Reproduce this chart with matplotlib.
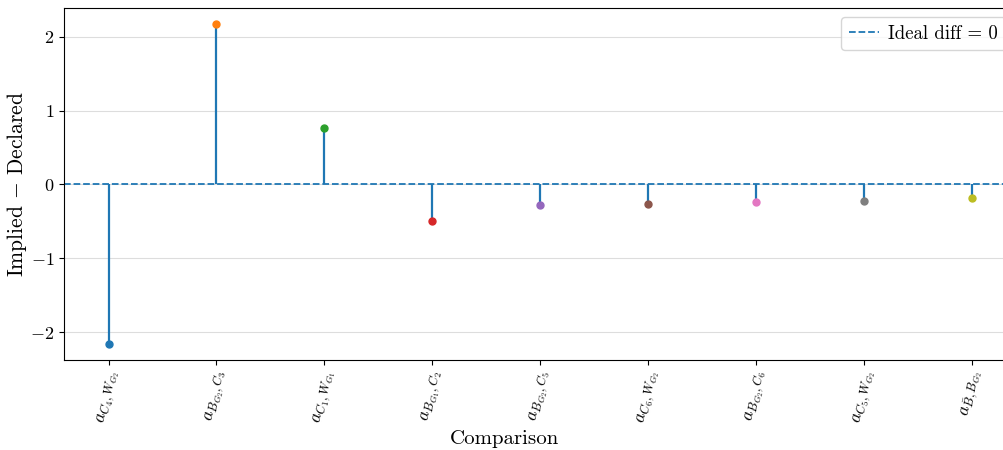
import numpy as np
import matplotlib
matplotlib.use("Agg")
import matplotlib.pyplot as plt

plt.rcParams["font.family"] = "serif"
plt.rcParams["font.serif"] = ["cmr10"]
plt.rcParams["mathtext.fontset"] = "cm"
plt.rcParams["axes.formatter.use_mathtext"] = True
plt.rcParams["axes.unicode_minus"] = True

# comparisons and implied - declared differences
labels = [
    r"$a_{C_4,W_{G_2}}$",
    r"$a_{B_{G_2},C_3}$",
    r"$a_{C_1,W_{G_1}}$",
    r"$a_{B_{G_1},C_2}$",
    r"$a_{B_{G_2},C_5}$",
    r"$a_{C_6,W_{G_2}}$",
    r"$a_{B_{G_2},C_6}$",
    r"$a_{C_5,W_{G_2}}$",
    r"$a_{\bar{B},B_{G_2}}$",
]
diffs = [-2.16, 2.17, 0.77, -0.50, -0.28, -0.26, -0.24, -0.22, -0.19]

x = np.arange(len(labels))

fig, ax = plt.subplots(figsize=(10.04, 4.5), dpi=100)
# axes run slightly past the right edge (reference is cropped there)
fig.subplots_adjust(left=0.064, right=1.01, top=0.982, bottom=0.2)

ax.vlines(x, 0, diffs, color="C0", linewidth=1.6, zorder=2)
for i, d in enumerate(diffs):
    ax.plot(x[i], d, "o", color=f"C{i}", markersize=5, zorder=3)

ax.axhline(0, color="C0", linestyle="--", linewidth=1.3, label="Ideal diff = 0", zorder=2)

ax.set_xticks(x)
ax.set_xticklabels(labels, rotation=80, fontsize=13)
ax.tick_params(axis="y", labelsize=13)
ax.set_xlim(-0.41, 8.39)
ax.set_yticks([-2, -1, 0, 1, 2])
ax.set_xlabel("Comparison", fontsize=15)
ax.xaxis.set_label_coords(0.463, -0.2)
ax.set_ylabel(r"Implied $-$ Declared", fontsize=15.5, labelpad=1)
ax.grid(True, axis="y", color="#dddddd", linewidth=0.8, zorder=0)
ax.set_axisbelow(True)
ax.legend(loc="upper left", bbox_to_anchor=(0.838, 0.962),
          bbox_transform=fig.transFigure, borderaxespad=0,
          fontsize=13.5, handlelength=1.6, handletextpad=0.5)

plt.savefig("out.png", dpi=100)
